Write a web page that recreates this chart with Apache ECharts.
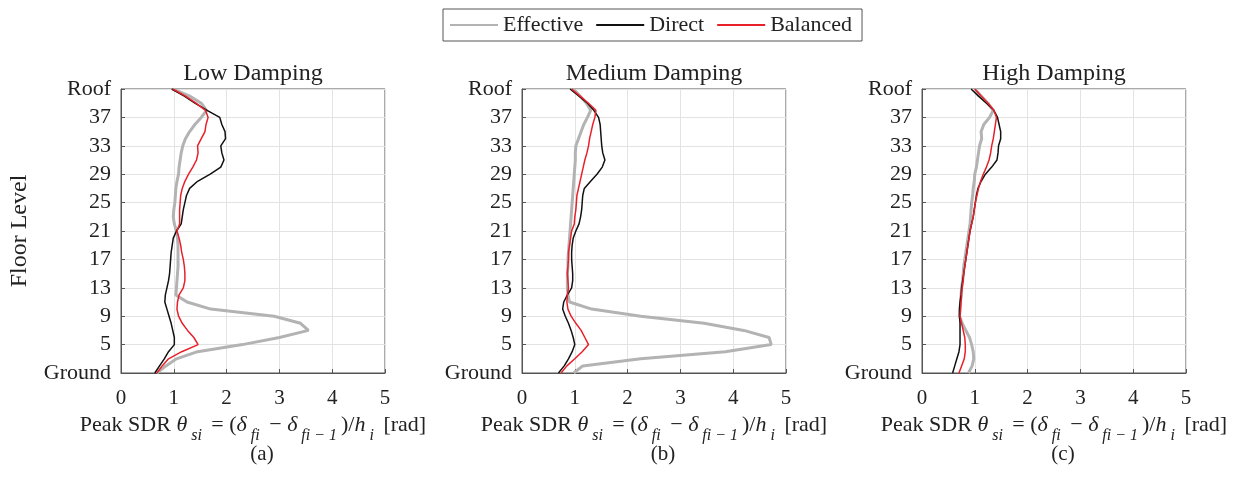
<!DOCTYPE html>
<html><head><meta charset="utf-8">
<script src="https://cdn.jsdelivr.net/npm/echarts@6/dist/echarts.min.js"></script>
<style>html,body{margin:0;padding:0;background:#fff}#c{width:1241px;height:481px}</style>
</head><body><div id="c"></div>
<script>
// ---- data ----
const panelTitles = ['Low Damping', 'Medium Damping', 'High Damping'];
const panelTags = ['(a)', '(b)', '(c)'];
const seriesNames = ['Effective', 'Direct', 'Balanced'];
// storey index: 0 = Ground (level 1) ... 40 = Roof (level 41)
const storeyIndex = [0,1,2,3,4,5,6,7,8,9,10,11,12,13,14,15,16,17,18,19,20,21,22,23,24,25,26,27,28,29,30,31,32,33,34,35,36,37,38,39,40];
const yTickLabels = ['Ground','5','9','13','17','21','25','29','33','37','Roof'];
const xTickLabels = ['0','1','2','3','4','5'];

// peak SDR values, ground -> roof
const lowEffective = [0.68,0.85,1.05,1.45,2.30,3.00,3.55,3.40,2.90,1.70,1.25,1.04,1.05,1.06,1.07,1.08,1.08,1.08,1.08,1.07,1.05,1.01,0.99,1.00,1.02,1.03,1.04,1.06,1.09,1.10,1.12,1.14,1.17,1.22,1.30,1.40,1.52,1.62,1.52,1.30,0.98];
const lowDirect    = [0.64,0.73,0.82,0.90,1.01,1.01,0.98,0.95,0.91,0.87,0.83,0.84,0.87,0.90,0.92,0.93,0.94,0.95,0.97,0.99,1.05,1.14,1.16,1.18,1.21,1.24,1.30,1.45,1.69,1.89,1.95,1.91,1.89,1.98,1.97,1.91,1.87,1.63,1.40,1.20,0.96];
const lowBalanced  = [0.68,0.78,0.90,1.15,1.46,1.38,1.26,1.16,1.09,1.06,1.07,1.10,1.18,1.21,1.21,1.20,1.18,1.15,1.13,1.10,1.06,1.11,1.11,1.11,1.12,1.13,1.16,1.21,1.28,1.36,1.43,1.46,1.45,1.52,1.59,1.61,1.65,1.60,1.42,1.22,0.98];

const medEffective = [0.98,1.15,2.25,3.85,4.72,4.68,4.20,3.45,2.25,1.32,0.90,0.87,0.86,0.86,0.86,0.87,0.87,0.88,0.89,0.90,0.91,0.92,0.93,0.94,0.95,0.96,0.97,0.98,0.99,1.00,1.01,1.01,1.02,1.07,1.12,1.17,1.24,1.30,1.22,1.10,0.97];
const medDirect    = [0.69,0.80,0.88,0.95,1.00,0.97,0.93,0.88,0.82,0.77,0.79,0.86,0.94,0.96,0.96,0.95,0.94,0.94,0.95,0.97,1.02,1.08,1.11,1.13,1.14,1.15,1.18,1.30,1.42,1.52,1.57,1.53,1.51,1.50,1.49,1.48,1.45,1.36,1.24,1.08,0.91];
const medBalanced  = [0.74,0.85,1.00,1.14,1.26,1.19,1.12,1.02,0.93,0.87,0.85,0.86,0.88,0.87,0.86,0.87,0.88,0.88,0.90,0.92,0.94,0.99,1.00,1.02,1.03,1.04,1.07,1.10,1.13,1.16,1.19,1.23,1.26,1.28,1.31,1.34,1.38,1.40,1.26,1.10,0.94];

const highEffective = [0.88,0.95,0.98,0.97,0.94,0.90,0.83,0.76,0.71,0.72,0.73,0.74,0.75,0.77,0.78,0.79,0.81,0.83,0.85,0.87,0.89,0.91,0.92,0.93,0.94,0.96,0.97,0.99,1.00,1.03,1.05,1.07,1.09,1.13,1.12,1.17,1.28,1.35,1.25,1.12,1.00];
const highDirect    = [0.58,0.62,0.66,0.70,0.72,0.72,0.72,0.72,0.71,0.71,0.72,0.74,0.75,0.77,0.79,0.81,0.83,0.85,0.87,0.89,0.91,0.94,0.97,0.99,1.01,1.03,1.06,1.12,1.20,1.32,1.42,1.44,1.45,1.49,1.49,1.46,1.43,1.36,1.22,1.07,0.93];
const highBalanced  = [0.70,0.75,0.80,0.82,0.82,0.81,0.78,0.75,0.72,0.73,0.74,0.75,0.76,0.78,0.79,0.81,0.83,0.85,0.87,0.89,0.91,0.94,0.97,0.99,1.01,1.04,1.07,1.11,1.16,1.22,1.27,1.30,1.32,1.35,1.37,1.39,1.41,1.36,1.25,1.12,1.00];

const panelData = [
  [lowEffective, lowDirect, lowBalanced],
  [medEffective, medDirect, medBalanced],
  [highEffective, highDirect, highBalanced]
];

// ---- styling ----
const FONT = "'Liberation Serif','Times New Roman','DejaVu Serif',serif";
const seriesColors = ['#b3b3b3', '#111111', '#e8202a'];
const seriesWidths = [3, 1.5, 1.5];
const gridLefts = [121, 522, 922];
const gridW = 264, gridTop = 89, gridH = 284;

const xName = '{t|Peak SDR }{i|θ}{s|si}{t| = (}{i|δ}{s|fi}{t| − }{i|δ}{s|fi − 1}{t|)/}{i|h}{s|i}{t| [rad]}';
const xRich = {
  t: {fontFamily: FONT, fontSize: 22, color: '#222'},
  i: {fontFamily: FONT, fontSize: 22, fontStyle: 'italic', color: '#222'},
  s: {fontFamily: FONT, fontSize: 16, fontStyle: 'italic', color: '#222', padding: [22, 4, 0, 4]}
};

const grids = [], xAxes = [], yAxes = [], series = [], titles = [];
for (let p = 0; p < 3; p++) {
  grids.push({left: gridLefts[p], top: gridTop, width: gridW, height: gridH,
    show: true, borderColor: '#555', borderWidth: 1, backgroundColor: '#fff'});
  xAxes.push({
    type: 'value', gridIndex: p, min: 0, max: 5, interval: 1,
    axisLine: {show: true, onZero: false, lineStyle: {color: '#555'}},
    axisTick: {show: true, inside: true, length: 4, lineStyle: {color: '#555'}},
    splitLine: {show: true, lineStyle: {color: '#e3e3e3', width: 1}},
    axisLabel: {fontFamily: FONT, fontSize: 21, color: '#222', margin: 15,
      formatter: v => xTickLabels[Math.round(v)]},
    name: xName, nameLocation: 'middle', nameGap: 26,
    nameTextStyle: {rich: xRich}
  });
  yAxes.push({
    type: 'value', gridIndex: p, min: 0, max: 40, interval: 4,
    axisLine: {show: true, onZero: false, lineStyle: {color: '#555'}},
    axisTick: {show: true, inside: true, length: 4, lineStyle: {color: '#555'}},
    splitLine: {show: true, lineStyle: {color: '#e3e3e3', width: 1}},
    axisLabel: {fontFamily: FONT, fontSize: 22, color: '#222', margin: 10,
      formatter: v => yTickLabels[Math.round(v / 4)]},
    name: p === 0 ? 'Floor Level' : '', nameLocation: 'middle', nameGap: 89,
    nameTextStyle: {fontFamily: FONT, fontSize: 24, color: '#222'}
  });
  titles.push({text: panelTitles[p], left: gridLefts[p] + gridW / 2, top: 62, textAlign: 'center', padding: 0,
    textStyle: {fontFamily: FONT, fontSize: 24, fontWeight: 'normal', color: '#222'}});
  titles.push({text: panelTags[p], left: gridLefts[p] + gridW / 2 + 9, top: 444, textAlign: 'center', padding: 0,
    textStyle: {fontFamily: FONT, fontSize: 21, fontWeight: 'normal', color: '#222'}});
  for (let s = 0; s < 3; s++) {
    const vals = panelData[p][s];
    series.push({
      name: seriesNames[s], type: 'line', xAxisIndex: p, yAxisIndex: p,
      symbol: 'none', showSymbol: false, smooth: false, animation: false,
      lineStyle: {color: seriesColors[s], width: seriesWidths[s]},
      itemStyle: {color: seriesColors[s]},
      data: storeyIndex.map((k, i) => [vals[i], k])
    });
  }
}

const chart = echarts.init(document.getElementById('c'), null, {renderer: 'canvas'});
chart.setOption({
  backgroundColor: '#fff',
  animation: false,
  title: titles,
  legend: {
    data: seriesNames, left: 443, top: 9,
    borderColor: '#555', borderWidth: 1, padding: [5, 10, 5, 6],
    itemWidth: 48, itemHeight: 14, itemGap: 12,
    itemStyle: {opacity: 0},
    textStyle: {fontFamily: FONT, fontSize: 22, color: '#222'}
  },
  grid: grids, xAxis: xAxes, yAxis: yAxes, series: series
});
</script></body></html>
